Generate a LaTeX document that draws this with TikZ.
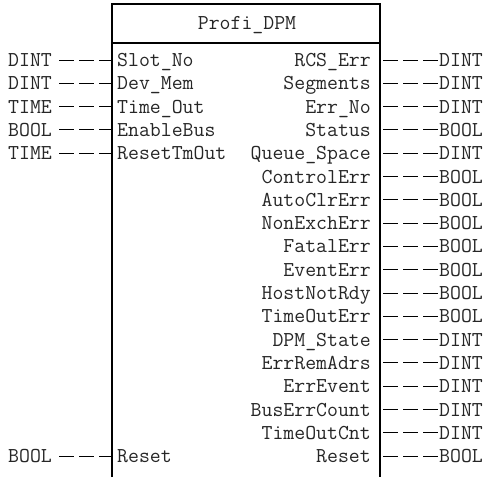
\documentclass[tikz,border=0pt]{standalone}
\usepackage{fontspec}
\begin{document}
\begin{tikzpicture}[x=1pt,y=-1pt,
  lbl/.style={inner sep=0pt, text=black!85, font=\ttfamily\fontsize{21.2}{23}\selectfont},
  boxline/.style={line width=1.3pt},
  pin/.style={line width=1pt, dash pattern=on 15pt off 5pt}]
\useasboundingbox (0,0) rectangle (484,477);
% block outline (open at the bottom)
\coordinate (bl) at (112,477);
\coordinate (tl) at (112,4);
\coordinate (tr) at (380,4);
\coordinate (br) at (380,477);
\coordinate (hl) at (112,43);
\coordinate (hr) at (380,43);
\draw[boxline] (bl) -- (tl) -- (tr) -- (br);
\draw[boxline] (hl) -- (hr);
\node[lbl, anchor=base] (title) at (247,29.5) {Profi\_DPM};
% inputs
\foreach \k/\n/\t in {0/Slot\_No/DINT, 1/Dev\_Mem/DINT, 2/Time\_Out/TIME,
  3/EnableBus/BOOL, 4/ResetTmOut/TIME, 17/Reset/BOOL} {
  \coordinate (ie\k) at (112,{60+23.3*\k});
  \node[lbl, anchor=base west] (in\k) at (117,{66.5+23.3*\k}) {\n};
  \node[lbl, anchor=base west] (it\k) at (8,{66.5+23.3*\k}) {\t};
  \draw[pin, shorten <=7pt] (it\k.east |- ie\k) -- (ie\k);
}
% outputs
\foreach \n/\t [count=\i from 0] in {RCS\_Err/DINT, Segments/DINT, Err\_No/DINT,
  Status/BOOL, Queue\_Space/DINT, ControlErr/BOOL, AutoClrErr/BOOL,
  NonExchErr/BOOL, FatalErr/BOOL, EventErr/BOOL, HostNotRdy/BOOL,
  TimeOutErr/BOOL, DPM\_State/DINT, ErrRemAdrs/DINT, ErrEvent/DINT,
  BusErrCount/DINT, TimeOutCnt/DINT, Reset/BOOL} {
  \coordinate (os\i) at (383,{60+23.3*\i});
  \node[lbl, anchor=base east] (on\i) at (371,{66.5+23.3*\i}) {\n};
  \node[lbl, anchor=base west] (ot\i) at (439,{66.5+23.3*\i}) {\t};
  \draw[pin, shorten >=1pt] (os\i) -- (ot\i.west |- os\i);
}
\end{tikzpicture}
\end{document}
